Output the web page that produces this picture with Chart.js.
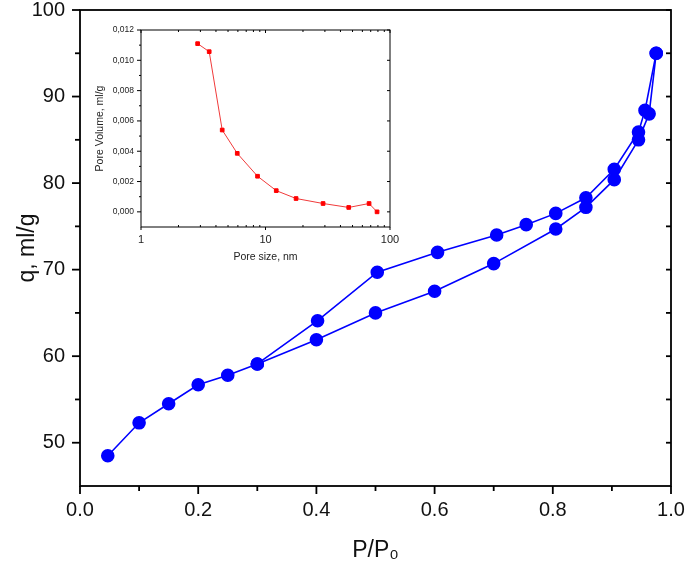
<!DOCTYPE html>
<html>
<head>
<meta charset="utf-8">
<script src="https://cdn.jsdelivr.net/npm/chart.js@4"></script>
<style>
  html, body { margin: 0; padding: 0; background: #fff; }
  #wrap { position: relative; width: 685px; height: 566px; }
  #canvasMain { position: absolute; left: 0; top: 0; }
  #canvasInset { position: absolute; left: 90px; top: 20px; }
</style>
</head>
<body>
<div id="wrap">
  <canvas id="canvasMain" width="685" height="566"></canvas>
  <canvas id="canvasInset" width="310" height="250"></canvas>
</div>
<script>
// isotherm, adsorption branch (lower)
const adsP = [0.047, 0.10, 0.15, 0.20, 0.25, 0.30, 0.40, 0.50, 0.60, 0.70, 0.805, 0.856, 0.904, 0.945, 0.963, 0.975];
const adsQ = [48.5, 52.3, 54.5, 56.7, 57.8, 59.1, 61.9, 65.0, 67.5, 70.7, 74.7, 77.2, 80.4, 85.0, 88.0, 95.0];
// desorption branch (upper)
const desP = [0.975, 0.956, 0.945, 0.904, 0.856, 0.805, 0.755, 0.705, 0.605, 0.503, 0.402, 0.30];
const desQ = [95.0, 88.4, 85.9, 81.6, 78.3, 76.5, 75.2, 74.0, 72.0, 69.7, 64.1, 59.1];

// inset: pore size distribution
const poreSize = [2.85, 3.53, 4.49, 5.93, 8.63, 12.2, 17.6, 29.0, 46.6, 67.9, 78.7];
const poreVolume = [0.0111, 0.01057, 0.0054, 0.00386, 0.00235, 0.0014, 0.00088, 0.00055, 0.00029, 0.00055, 0.0];

// tick positions
const xMajor = [0, 0.2, 0.4, 0.6, 0.8, 1.0];
const xMinor = [0.1, 0.3, 0.5, 0.7, 0.9];
const yMajor = [50, 60, 70, 80, 90, 100];
const yMinor = [55, 65, 75, 85, 95];
const insetXMajor = [1, 10, 100];
const insetXMinor = [2, 3, 4, 5, 6, 7, 8, 9, 20, 30, 40, 50, 60, 70, 80, 90];
const insetYMajor = [0, 0.002, 0.004, 0.006, 0.008, 0.010, 0.012];
const insetYMinor = [0.001, 0.003, 0.005, 0.007, 0.009, 0.011];

const FONT = '"Liberation Sans", Arial, sans-serif';

const toPoints = (xs, ys) => xs.map((v, i) => ({ x: v, y: ys[i] }));

// fixed axis box size, no label overhang padding
const fixSize = (w, h) => s => {
  if (w !== null) s.width = w;
  if (h !== null) s.height = h;
  s.paddingTop = 0; s.paddingBottom = 0; s.paddingLeft = 0; s.paddingRight = 0;
};

// frame box + tick marks (len > 0 outward, < 0 inward)
const frameTicks = {
  id: 'frameTicks',
  afterDraw(chart, args, opts) {
    const { ctx, chartArea: a } = chart;
    ctx.save();
    ctx.strokeStyle = '#000';
    ctx.lineWidth = opts.width;
    ctx.strokeRect(a.left, a.top, a.right - a.left, a.bottom - a.top);
    opts.marks.forEach(m => {
      const scale = chart.scales[m.axis];
      m.values.forEach(v => {
        const p = scale.getPixelForValue(v);
        ctx.beginPath();
        if (m.side === 'bottom') { ctx.moveTo(p, a.bottom); ctx.lineTo(p, a.bottom + m.len); }
        if (m.side === 'top') { ctx.moveTo(p, a.top); ctx.lineTo(p, a.top - m.len); }
        if (m.side === 'left') { ctx.moveTo(a.left, p); ctx.lineTo(a.left - m.len, p); }
        if (m.side === 'right') { ctx.moveTo(a.right, p); ctx.lineTo(a.right + m.len, p); }
        ctx.stroke();
      });
    });
    ctx.restore();
  }
};

function chartMain() {
  const blue = '#0000ff';
  const ctx = document.getElementById('canvasMain').getContext('2d');
  new Chart(ctx, {
    type: 'scatter',
    data: {
      datasets: [
        { data: toPoints(adsP, adsQ), showLine: true, borderColor: blue, backgroundColor: blue,
          borderWidth: 1.6, pointRadius: 6, pointHoverRadius: 6 },
        { data: toPoints(desP, desQ), showLine: true, borderColor: blue, backgroundColor: blue,
          borderWidth: 1.6, pointRadius: 6, pointHoverRadius: 6 }
      ]
    },
    options: {
      responsive: false,
      animation: false,
      layout: { padding: { left: 0, right: 14, top: 10, bottom: 0 } },
      plugins: {
        legend: { display: false },
        tooltip: { enabled: false },
        frameTicks: {
          width: 1.8,
          marks: [
            { axis: 'x', side: 'bottom', values: xMajor, len: 8 },
            { axis: 'x', side: 'bottom', values: xMinor, len: 5 },
            { axis: 'y', side: 'left', values: yMajor, len: 8 },
            { axis: 'y', side: 'left', values: yMinor, len: 5 },
            { axis: 'y', side: 'right', values: yMajor.concat(yMinor), len: -5 }
          ]
        }
      },
      scales: {
        x: {
          type: 'linear', min: 0, max: 1,
          afterBuildTicks: s => { s.ticks = xMajor.map(v => ({ value: v })); },
          afterFit: fixSize(null, 80),
          grid: { display: false, drawTicks: false },
          border: { display: false },
          ticks: { padding: 12, maxRotation: 0, color: '#111', font: { family: FONT, size: 20 },
            callback: v => v.toFixed(1) },
          title: { display: true, text: 'P/P₀', color: '#111', font: { family: FONT, size: 23 },
            padding: { top: 0, bottom: 2 } }
        },
        y: {
          type: 'linear', min: 45, max: 100,
          afterBuildTicks: s => { s.ticks = yMajor.map(v => ({ value: v })); },
          afterFit: fixSize(80, null),
          grid: { display: false, drawTicks: false },
          border: { display: false },
          ticks: { padding: 15, color: '#111', font: { family: FONT, size: 20 } },
          title: { display: true, text: 'q, ml/g', color: '#111', font: { family: FONT, size: 23 },
            padding: { top: 14, bottom: 0 } }
        }
      }
    },
    plugins: [frameTicks]
  });
}

function chartInset() {
  const red = '#ff0000';
  const ctx = document.getElementById('canvasInset').getContext('2d');
  new Chart(ctx, {
    type: 'scatter',
    data: {
      datasets: [{
        data: toPoints(poreSize, poreVolume), showLine: true,
        borderColor: '#f03a3a', backgroundColor: red, borderWidth: 1,
        pointStyle: 'rect', pointRadius: 2.6, pointHoverRadius: 2.6, pointBorderColor: red
      }]
    },
    options: {
      responsive: false,
      animation: false,
      layout: { padding: { left: 0, right: 10, top: 10, bottom: 0 } },
      plugins: {
        legend: { display: false },
        tooltip: { enabled: false },
        frameTicks: {
          width: 1,
          marks: [
            { axis: 'x', side: 'bottom', values: insetXMajor, len: 3 },
            { axis: 'x', side: 'bottom', values: insetXMinor, len: -2 },
            { axis: 'x', side: 'top', values: insetXMajor, len: -3 },
            { axis: 'x', side: 'top', values: insetXMinor, len: -2 },
            { axis: 'y', side: 'left', values: insetYMajor, len: 4 },
            { axis: 'y', side: 'left', values: insetYMinor, len: 2 },
            { axis: 'y', side: 'right', values: insetYMajor, len: -3 }
          ]
        }
      },
      scales: {
        x: {
          type: 'logarithmic', min: 1, max: 100,
          afterBuildTicks: s => { s.ticks = insetXMajor.map(v => ({ value: v })); },
          afterFit: fixSize(null, 43),
          grid: { display: false, drawTicks: false },
          border: { display: false },
          ticks: { padding: 6, autoSkip: false, maxRotation: 0, color: '#222',
            font: { family: FONT, size: 11 }, callback: v => String(v) },
          title: { display: true, text: 'Pore size, nm', color: '#222', font: { family: FONT, size: 10.5 },
            padding: { top: 0, bottom: 7 } }
        },
        y: {
          type: 'linear', min: -0.001, max: 0.012,
          afterBuildTicks: s => { s.ticks = insetYMajor.map(v => ({ value: v })); },
          afterFit: fixSize(51, null),
          grid: { display: false, drawTicks: false },
          border: { display: false },
          ticks: { padding: 7, color: '#222', font: { family: FONT, size: 8.5 },
            callback: v => v.toFixed(3).replace('.', ',') },
          title: { display: true, text: 'Pore Volume, ml/g', color: '#222', font: { family: FONT, size: 10.5 },
            padding: { top: 4, bottom: 0 } }
        }
      }
    },
    plugins: [frameTicks]
  });
}

chartMain();
chartInset();
</script>
</body>
</html>
